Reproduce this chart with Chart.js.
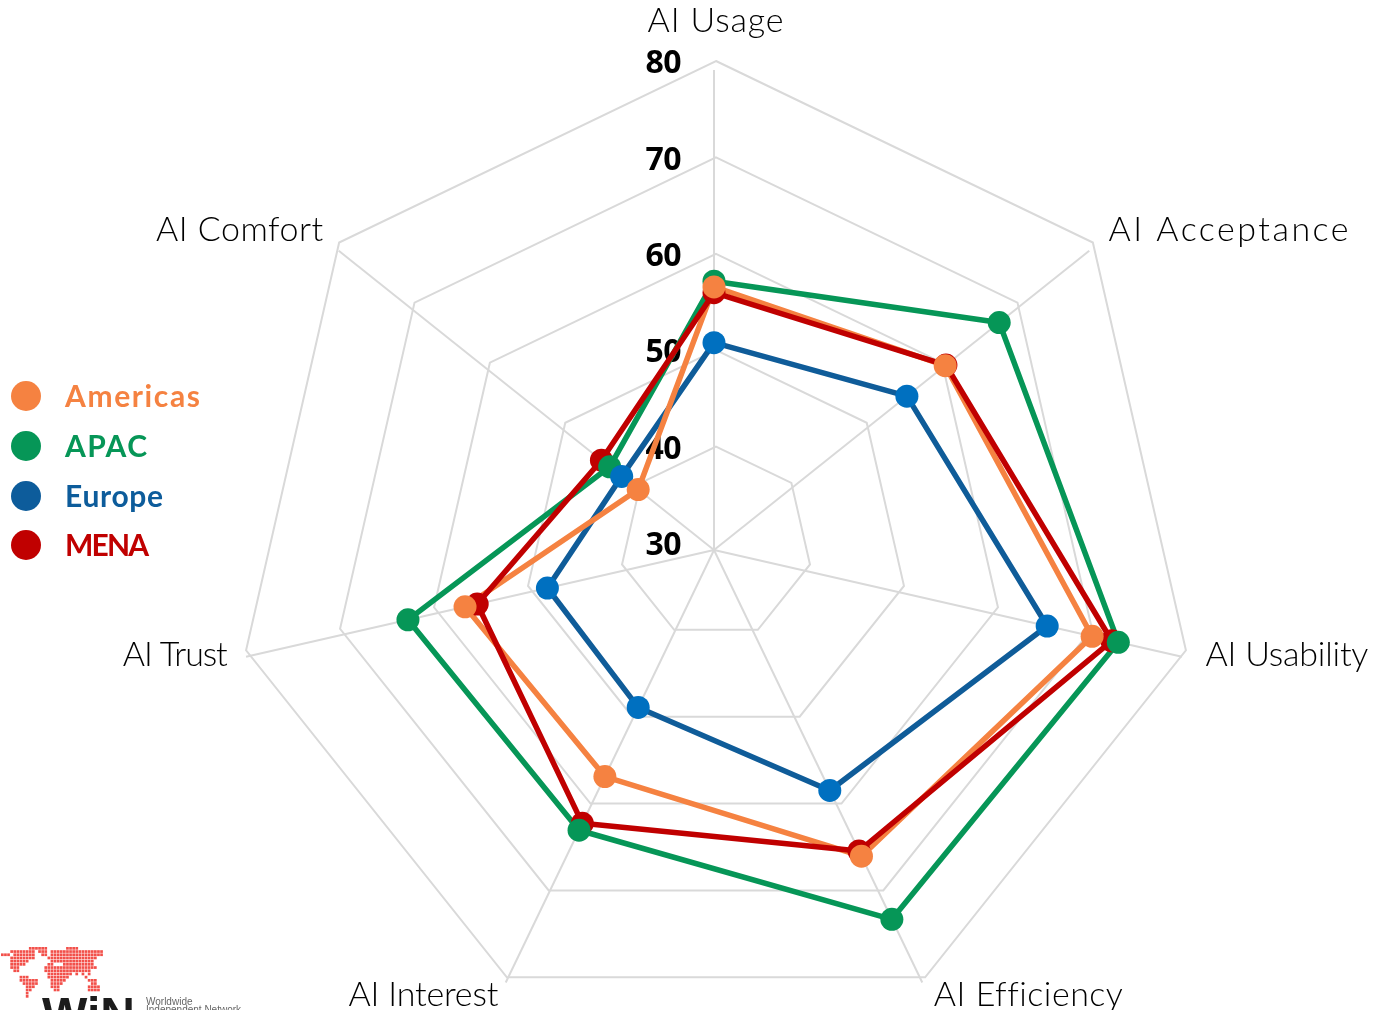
<!DOCTYPE html>
<html>
<head>
<meta charset="utf-8">
<title>AI attitudes by region</title>
<script src="https://cdn.jsdelivr.net/npm/chart.js@4"></script>
<style>
  html, body { margin: 0; padding: 0; background: #fff; width: 1373px; height: 1010px; overflow: hidden; }
  canvas { position: absolute; left: 0; top: 0; }
</style>
</head>
<body>
<canvas id="rings" width="1373" height="1025"></canvas>
<canvas id="series" width="1373" height="1100"></canvas>
<script>
const categories = ['AI Usage', 'AI Acceptance', 'AI Usability', 'AI Efficiency', 'AI Interest', 'AI Trust', 'AI Comfort'];
const tickValues = [30, 40, 50, 60, 70, 80];

const americas = [57.4, 60.8, 70.4, 65.4, 56.2, 56.6, 40.1];
const apac     = [58.0, 68.0, 73.2, 72.7, 62.4, 62.7, 43.9];
const europe   = [51.6, 55.7, 65.6, 57.8, 48.2, 47.8, 42.3];
const mena     = [56.8, 60.9, 72.5, 64.8, 61.6, 55.3, 45.0];

const regionNames = ['Americas', 'APAC', 'Europe', 'MENA'];
const regionValues = [americas, apac, europe, mena];
const lineColors = ['#F58241', '#069657', '#0F5C99', '#C00000'];
const pointColors = ['#F58241', '#069657', '#0070C0', '#C00000'];
const legendColors = ['#F58241', '#069657', '#0D5C9B', '#C00000'];
const legendRows = [396, 446, 496, 545];

// Text widths for the captions and legend entries, in pixels
const captionWidths = [136, 240, 163, 187, 150, 105, 167];
const legendWidths = [135, 82, 98, 84];

const LABEL_FONT = '"Lato", sans-serif';
const GRID = '#D9D9D9';

// Sets tracking so that a string spans the given width
function fitTracking(ctx, text, width) {
  ctx.letterSpacing = '0px';
  const natural = ctx.measureText(text).width;
  ctx.letterSpacing = ((width - natural) / (text.length - 1)).toFixed(2) + 'px';
}

// Ring labels, axis captions
const ringText = {
  id: 'ringText',
  afterDatasetsDraw(chart) {
    const { ctx, scales: { r } } = chart;
    ctx.save();
    ctx.fillStyle = '#000';
    ctx.textBaseline = 'middle';
    ctx.textAlign = 'right';
    ctx.font = '700 32px "Open Sans", sans-serif';
    ctx.letterSpacing = '-0.5px';
    tickValues.forEach(v => {
      const y = r.yCenter - r.getDistanceFromCenterForValue(v);
      ctx.fillText(String(v), r.xCenter - 35, y + 3);
    });
    ctx.font = '300 34px ' + LABEL_FONT;
    ctx.fillStyle = '#000';
    categories.forEach((name, i) => {
      const p = r.getPointPosition(i, r.drawingArea + 20);
      const sx = Math.sin(i * 2 * Math.PI / categories.length);
      ctx.textAlign = i === 0 ? 'center' : (sx > 0 ? 'left' : 'right');
      fitTracking(ctx, name, captionWidths[i]);
      ctx.fillText(name, p.x, i === 0 ? p.y - 20 : p.y);
    });
    ctx.restore();
  }
};

new Chart(document.getElementById('rings'), {
  type: 'radar',
  data: { labels: categories, datasets: [] },
  plugins: [ringText],
  options: {
    responsive: false,
    animation: false,
    layout: { padding: { left: 234, right: 175, top: 61, bottom: 0 } },
    plugins: { legend: { display: false }, tooltip: { enabled: false } },
    scales: {
      r: {
        min: 30, max: 80,
        ticks: { display: false, stepSize: 10 },
        pointLabels: { display: false },
        angleLines: { display: false },
        grid: { color: GRID, lineWidth: 2 }
      }
    }
  }
});

// Network mark in the lower-left corner, one string per row of dots
const logoRows = [
  '.........######......####.......',
  '...########.###.#################',
  '###.#######..##.#################',
  '...########....################',
  '...######.......##############',
  '...#####.......##...##########',
  '...###........#################',
  '....##........###############',
  '...............########.#.#.#',
  '......###......#######.....#',
  '......######....#####.......###',
  '.......#####....####.........##',
  '........###.....###.........####',
  '........##.......##.........####',
  '........#',
  '........#'
];

const legendAndMark = {
  id: 'legendAndMark',
  afterDatasetsDraw(chart) {
    const { ctx } = chart;
    ctx.save();
    ctx.textBaseline = 'middle';
    ctx.textAlign = 'left';
    ctx.font = '700 30px ' + LABEL_FONT;
    regionNames.forEach((name, i) => {
      ctx.fillStyle = legendColors[i];
      ctx.beginPath();
      ctx.arc(26, legendRows[i], 15, 0, Math.PI * 2);
      ctx.fill();
      fitTracking(ctx, name, legendWidths[i]);
      ctx.fillText(name, 65, legendRows[i] + 1);
    });
    ctx.letterSpacing = '0px';

    ctx.fillStyle = '#F2504A';
    logoRows.forEach((row, j) => {
      [...row].forEach((c, k) => {
        if (c === '#') ctx.fillRect(1 + k * 3.1, 947 + j * 3.2, 2.7, 2.7);
      });
    });
    ctx.fillStyle = '#1c1c1c';
    ctx.textBaseline = 'alphabetic';
    ctx.font = '700 48px "Liberation Sans", sans-serif';
    ctx.fillText('WiN', 42, 1031);
    ctx.fillStyle = '#666';
    ctx.font = '10px "Liberation Sans", sans-serif';
    ctx.fillText('Worldwide', 146, 1005);
    ctx.fillText('Independent Network', 146, 1013);
    ctx.restore();
  }
};

// Lines go down first, markers stay above every line
const lineOrder = [3, 1, 0, 2];
const pointOrder = [0, 2, 1, 3];
const datasets = [
  ...pointOrder.map(i => ({
    label: regionNames[i],
    data: regionValues[i],
    showLine: false,
    fill: false,
    backgroundColor: 'transparent',
    pointRadius: 11.5,
    pointBorderWidth: 0,
    pointBackgroundColor: pointColors[i]
  })),
  ...lineOrder.map(i => ({
    label: regionNames[i],
    data: regionValues[i],
    borderColor: lineColors[i],
    borderWidth: 5.5,
    borderJoinStyle: 'round',
    backgroundColor: 'transparent',
    fill: false,
    pointRadius: 0
  }))
];

new Chart(document.getElementById('series'), {
  type: 'radar',
  data: { labels: categories, datasets },
  plugins: [legendAndMark],
  options: {
    responsive: false,
    animation: false,
    layout: { padding: { left: 234, right: 179, top: 70, bottom: 70 } },
    plugins: { legend: { display: false }, tooltip: { enabled: false } },
    scales: {
      r: {
        min: 30, max: 80,
        ticks: { display: false, stepSize: 10 },
        pointLabels: { display: false },
        angleLines: { color: GRID, lineWidth: 2 },
        grid: { display: false }
      }
    }
  }
});
</script>
</body>
</html>
